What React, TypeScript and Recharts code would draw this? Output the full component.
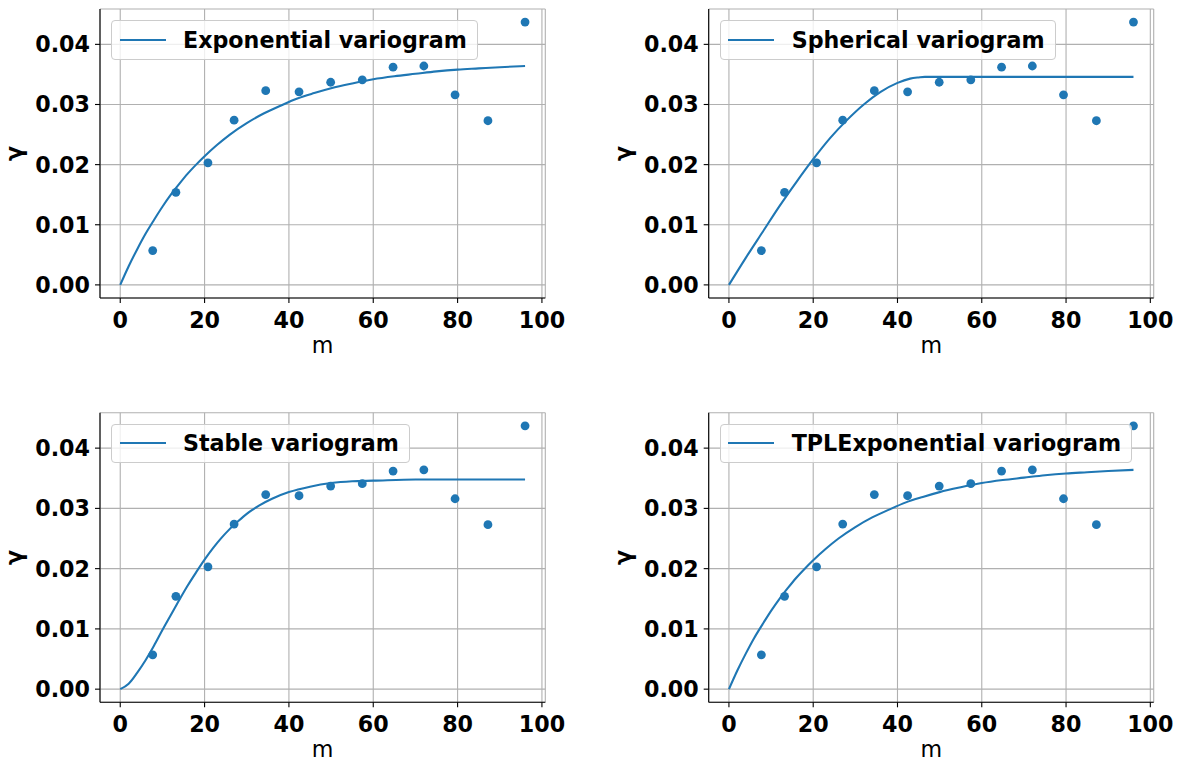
import { ComposedChart, Line, Scatter, XAxis, YAxis, CartesianGrid } from "recharts";

const BLUE = "#1f77b4";

// empirical variogram (bin centres in m, semivariance)
const binLag = [7.7, 13.2, 20.8, 27.0, 34.5, 42.4, 49.9, 57.4, 64.7, 72.0, 79.4, 87.2, 96.0];
const binGamma = [0.0057, 0.0154, 0.0203, 0.0274, 0.0323, 0.0321, 0.0337, 0.0341, 0.0362, 0.0364, 0.0316, 0.0273, 0.0437];

// fitted model curves
const expLag = [0, 2, 4, 6, 8, 10, 12, 14, 16, 18, 20, 23, 26, 30, 34, 38, 42, 46, 50, 55, 60, 65, 70, 75, 80, 85, 90, 96];
const expGamma = [0, 0.0031, 0.0059, 0.0085, 0.0108, 0.013, 0.015, 0.0168, 0.0185, 0.02, 0.0214, 0.0233, 0.025, 0.0269, 0.0285, 0.0298, 0.031, 0.0319, 0.0327, 0.0335, 0.0342, 0.0347, 0.0351, 0.0355, 0.0358, 0.036, 0.0362, 0.0364];

const sphLag = [0, 4, 8, 12, 16, 20, 24, 28, 32, 36, 40, 43, 45, 46.5, 60, 80, 96];
const sphGamma = [0, 0.0045, 0.0088, 0.0131, 0.0171, 0.0209, 0.0244, 0.0274, 0.03, 0.0321, 0.0336, 0.0343, 0.0345, 0.0346, 0.0346, 0.0346, 0.0346];

const stbLag = [0, 2, 4, 6, 8, 10, 12, 14, 16, 18, 20, 22, 24, 26, 28, 30, 33, 36, 40, 45, 50, 55, 60, 70, 80, 96];
const stbGamma = [0, 0.0009, 0.0027, 0.0048, 0.0072, 0.0098, 0.0123, 0.0148, 0.0172, 0.0194, 0.0215, 0.0234, 0.0251, 0.0266, 0.0279, 0.0291, 0.0305, 0.0316, 0.0327, 0.0336, 0.0342, 0.0345, 0.0346, 0.0348, 0.0348, 0.0348];

const tplLag = [0, 2, 4, 6, 8, 10, 12, 14, 16, 18, 20, 23, 26, 30, 34, 38, 42, 46, 50, 55, 60, 65, 70, 75, 80, 85, 90, 96];
const tplGamma = [0, 0.0031, 0.0059, 0.0085, 0.0108, 0.013, 0.015, 0.0168, 0.0185, 0.02, 0.0214, 0.0233, 0.025, 0.0269, 0.0285, 0.0298, 0.031, 0.0319, 0.0327, 0.0335, 0.0342, 0.0347, 0.0351, 0.0355, 0.0358, 0.036, 0.0362, 0.0364];

const xTicks = [0, 20, 40, 60, 80, 100];
const yTicks = [0, 0.01, 0.02, 0.03, 0.04];
const xDomain = [-4.8, 100.8];
const yDomain = [-0.00218, 0.04588];

const toRows = (xs: number[], ys: number[]) => xs.map((x, i) => ({ x, y: ys[i] }));
const binRows = toRows(binLag, binGamma);

const panels = [
  { name: "Exponential variogram", rows: toRows(expLag, expGamma), left: 0, top: 0, padLeft: 100, padTop: 9, pw: 445.3, ph: 289 },
  { name: "Spherical variogram", rows: toRows(sphLag, sphGamma), left: 600, top: 0, padLeft: 108.7, padTop: 9, pw: 445, ph: 289 },
  { name: "Stable variogram", rows: toRows(stbLag, stbGamma), left: 0, top: 400, padLeft: 100, padTop: 12.7, pw: 445.3, ph: 289.6 },
  { name: "TPLExponential variogram", rows: toRows(tplLag, tplGamma), left: 600, top: 400, padLeft: 108.7, padTop: 12.7, pw: 445, ph: 289.6 },
];

const W = 580;
const H = 372;
const XH = 56;
const YW = 100;
const FS = 22.2;

const tickStyle = { fill: "#000", fontSize: FS, fontWeight: "bold" };

function Panel({ p }: { p: (typeof panels)[number] }) {
  return (
    <div style={{ position: "absolute", left: p.left, top: p.top, width: W, height: H }}>
      <ComposedChart
        width={W}
        height={H}
        margin={{ top: p.padTop, left: p.padLeft - YW, right: W - p.padLeft - p.pw, bottom: H - p.padTop - p.ph - XH }}
      >
        <CartesianGrid stroke="#b0b0b0" strokeWidth={1.1} />
        <XAxis
          dataKey="x"
          type="number"
          domain={xDomain}
          ticks={xTicks}
          allowDataOverflow
          height={XH}
          tickSize={5}
          tickMargin={9}
          stroke="#000"
          strokeWidth={1.1}
          tick={tickStyle}
          label={{ value: "m", position: "insideBottom", offset: 1.5, fill: "#000", fontSize: FS }}
        />
        <XAxis xAxisId="top" orientation="top" type="number" domain={xDomain} allowDataOverflow height={0} tick={false} tickLine={false} stroke="#000" strokeWidth={1.1} />
        <YAxis
          dataKey="y"
          type="number"
          domain={yDomain}
          ticks={yTicks}
          allowDataOverflow
          width={YW}
          tickSize={5}
          tickMargin={5}
          stroke="#000"
          strokeWidth={1.1}
          tick={tickStyle}
          tickFormatter={(v: number) => v.toFixed(2)}
          label={{ value: "γ", angle: -90, position: "insideLeft", offset: 14, fill: "#000", fontSize: FS, fontWeight: "bold", style: { textAnchor: "middle" } }}
        />
        <YAxis yAxisId="right" orientation="right" type="number" domain={yDomain} allowDataOverflow width={0} tick={false} tickLine={false} stroke="#000" strokeWidth={1.1} />
        <Line data={p.rows} dataKey="y" type="monotone" stroke={BLUE} strokeWidth={2.1} dot={false} isAnimationActive={false} />
        <Scatter
          data={binRows}
          dataKey="y"
          fill={BLUE}
          isAnimationActive={false}
          shape={(s: any) => <circle cx={s.cx} cy={s.cy} r={4.4} fill={BLUE} />}
        />
      </ComposedChart>
      <div
        style={{
          position: "absolute",
          left: p.padLeft + 11,
          top: p.padTop + 11,
          height: 39.5,
          boxSizing: "border-box",
          display: "flex",
          alignItems: "center",
          padding: "0 10px 0 7.5px",
          border: "1px solid #cccccc",
          borderRadius: 4,
          background: "rgba(255,255,255,0.8)",
        }}
      >
        <span style={{ width: 46, height: 0, borderTop: `2.1px solid ${BLUE}`, marginRight: 17.5 }} />
        <span style={{ fontSize: FS, fontWeight: "bold", color: "#000", whiteSpace: "nowrap" }}>{p.name}</span>
      </div>
    </div>
  );
}

export default function App() {
  return (
    <div
      style={{
        position: "absolute",
        left: 0,
        top: 0,
        width: 1180,
        height: 759,
        overflow: "hidden",
        background: "#fff",
        fontFamily: "'DejaVu Sans', sans-serif",
      }}
    >
      {panels.map((p) => (
        <Panel key={p.name} p={p} />
      ))}
    </div>
  );
}
